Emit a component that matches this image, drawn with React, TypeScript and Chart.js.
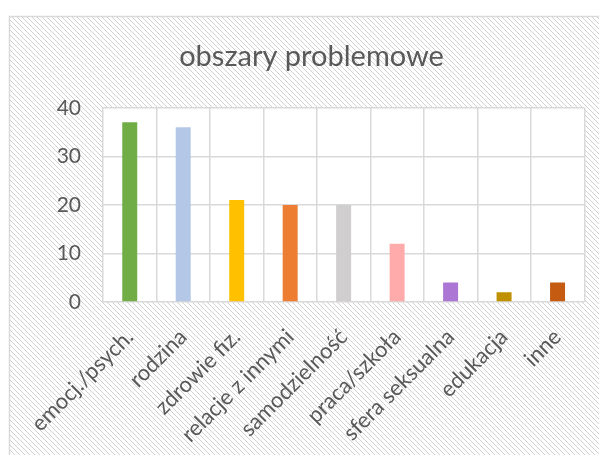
import React, { useEffect, useRef } from "react";
import { Chart, registerables } from "chart.js";

Chart.register(...registerables);

const categories = [
  "emocj./psych.",
  "rodzina",
  "zdrowie fiz.",
  "relacje z innymi",
  "samodzielność",
  "praca/szkoła",
  "sfera seksualna",
  "edukacja",
  "inne",
];
const values = [37, 36, 21, 20, 20, 12, 4, 2, 4];
const barColors = [
  "#70AD47",
  "#B4C7E7",
  "#FFC000",
  "#ED7D31",
  "#D0CECE",
  "#FFABAB",
  "#AB76D4",
  "#BF9000",
  "#C55A11",
];
const yMin = 0;
const yMax = 40;
const yStep = 10;
const chartTitle = "obszary problemowe";

const W = 599;
const H = 455;

function makePattern(ctx: CanvasRenderingContext2D) {
  const s = 5;
  const c = document.createElement("canvas");
  c.width = s;
  c.height = s;
  const p = c.getContext("2d")!;
  p.fillStyle = "#ffffff";
  p.fillRect(0, 0, s, s);
  p.strokeStyle = "#d0d0d0";
  p.lineWidth = 1;
  p.beginPath();
  p.moveTo(-1, -1);
  p.lineTo(s + 1, s + 1);
  p.moveTo(-1, s - 1);
  p.lineTo(1, s + 1);
  p.moveTo(s - 1, -1);
  p.lineTo(s + 1, 1);
  p.stroke();
  return ctx.createPattern(c, "repeat")!;
}

const backgroundPlugin = {
  id: "bgHatch",
  beforeDraw(chart: any) {
    const ctx: CanvasRenderingContext2D = chart.ctx;
    const { left, top, right, bottom } = chart.chartArea;
    ctx.save();
    ctx.fillStyle = "#ffffff";
    ctx.fillRect(0, 0, chart.width, chart.height);
    ctx.fillStyle = makePattern(ctx);
    ctx.fillRect(9, 16, chart.width, chart.height);
    ctx.strokeStyle = "#d9d9d9";
    ctx.lineWidth = 1.5;
    ctx.strokeRect(9.5, 16.5, chart.width + 10, chart.height + 10);
    ctx.fillStyle = "#ffffff";
    ctx.fillRect(left, top, right - left, bottom - top);
    ctx.restore();
  },
};

export default function App() {
  const ref = useRef<HTMLCanvasElement | null>(null);

  useEffect(() => {
    document.body.style.margin = "0";
    const canvas = ref.current!;
    const chart = new Chart(canvas, {
      type: "bar",
      data: {
        labels: categories,
        datasets: [
          {
            data: values,
            backgroundColor: barColors,
            borderWidth: 0,
            barPercentage: 0.28,
            categoryPercentage: 1,
          },
        ],
      },
      options: {
        responsive: false,
        animation: false,
        devicePixelRatio: 1,
        layout: { padding: { left: 38, right: 14, top: 0, bottom: 0 } },
        plugins: {
          legend: { display: false },
          tooltip: { enabled: false },
          title: {
            display: true,
            text: chartTitle,
            color: "#595959",
            font: { family: "Lato", size: 29, weight: "normal" },
            padding: { top: 39, bottom: 34 },
          },
        },
        scales: {
          x: {
            grid: {
              color: "#d9d9d9",
              lineWidth: 1.5,
              drawTicks: false,
              offset: true,
            },
            border: { display: false },
            ticks: {
              autoSkip: false,
              minRotation: 45,
              maxRotation: 45,
              padding: 22,
              color: "#595959",
              font: { family: "Lato", size: 22 },
            },
            afterFit: (scale: any) => {
              scale.height = H - 302;
            },
          },
          y: {
            min: yMin,
            max: yMax,
            grid: { color: "#d9d9d9", lineWidth: 1.5, drawTicks: false },
            border: { display: false },
            ticks: {
              stepSize: yStep,
              padding: 22,
              color: "#595959",
              font: { family: "Lato", size: 21 },
            },
            afterFit: (scale: any) => {
              scale.width = 103 - 38;
            },
          },
        },
      },
      plugins: [backgroundPlugin],
    });
    return () => chart.destroy();
  }, []);

  return (
    <canvas
      ref={ref}
      width={W}
      height={H}
      style={{ display: "block", width: W, height: H }}
    />
  );
}
